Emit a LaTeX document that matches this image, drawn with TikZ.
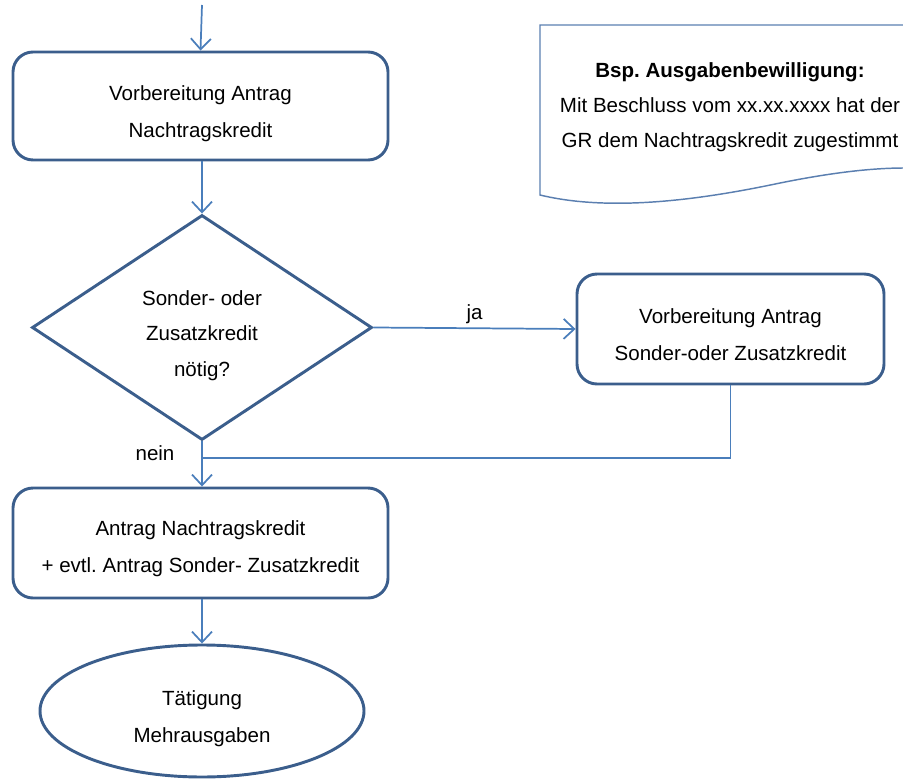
\documentclass[tikz,border=0pt]{standalone}
\usepackage{fontspec}
\setmainfont{Liberation Sans}
\usepackage{xcolor}
\usetikzlibrary{calc, shapes.geometric, arrows.meta}
\definecolor{rahmen}{HTML}{3B5E8C}
\definecolor{pfeil}{HTML}{4A7EBB}
\definecolor{blatt}{HTML}{5B7FB0}
\frenchspacing
%invisible strut that pushes the text a little down
\newcommand{\obenluft}[1]{\rule{0pt}{#1}}
\tikzset{
	box/.style={draw=rahmen, line width=2.2pt, rounded corners=15pt, inner sep=0pt,
		align=center, font=\fontsize{15.4}{27.75}\selectfont},
	decision/.style={draw=rahmen, line width=2.2pt, diamond, aspect=1.5, inner sep=0pt,
		minimum width=255pt, minimum height=168.75pt, align=center,
		font=\fontsize{15.4}{26.5}\selectfont},
	terminal/.style={draw=rahmen, line width=2.2pt, ellipse, inner sep=0pt,
		minimum width=243pt, minimum height=99pt, align=center,
		font=\fontsize{15.4}{28}\selectfont},
	flow/.style={draw=pfeil, line width=1.3pt, -{Straight Barb[length=8pt,width=15pt,line width=1.3pt]}},
	label/.style={font=\fontsize{15.4}{18}\selectfont, inner sep=0pt}
}
\begin{document}
\begin{tikzpicture}[x=0.75pt, y=-0.75pt]
	\useasboundingbox (0,0) rectangle (903,781);
	%Main column
	\coordinate (start) at (202,5);
	\node [box, minimum width=281.25pt, minimum height=81pt] (vorb) at (200.5,106)
		{\obenluft{22pt}Vorbereitung Antrag\\Nachtragskredit};
	\node [decision] (frage) at (202,327.5) {\obenluft{23pt}Sonder- oder\\Zusatzkredit\\nötig?};
	\node [box, minimum width=230.25pt, minimum height=82.5pt] (sonder) at (730.5,329)
		{\obenluft{20pt}Vorbereitung Antrag\\Sonder-oder Zusatzkredit};
	\node [box, minimum width=281.25pt, minimum height=82.5pt] (antrag) at (200.5,543)
		{\obenluft{19pt}Antrag Nachtragskredit\\+ evtl. Antrag Sonder- Zusatzkredit};
	\node [terminal] (mehr) at (202,711) {\obenluft{23pt}Tätigung\\Mehrausgaben};
	%Connectors
	\draw [flow] (start) -- (vorb.south |- vorb.north);
	\draw [flow] (vorb.south -| frage.north) -- (frage.north);
	\draw [flow] (frage.east) -- (sonder.west) node [label, midway, above=3pt] {ja};
	\coordinate (join) at (202,458);
	\draw [draw=pfeil, line width=1.3pt] (sonder.south) |- (join);
	\draw [flow] (frage.south) -- (frage.south |- antrag.north);
	\node [label] (nein) at (155,453) {nein};
	\draw [flow] (antrag.south -| mehr.north) -- (mehr.north);
	%Document shape (Bsp.)
	\draw [draw=blatt, line width=1.1pt] (905,25) -- (540,25) -- (540,195)
		.. controls (610,212) and (700,200) .. (780,183)
		.. controls (830,173) and (870,168) .. (905,168);
	\node [align=center, inner sep=0pt, font=\fontsize{15.4}{26.2}\selectfont] (bsp) at (730,107)
		{\textbf{Bsp. Ausgabenbewilligung:}\\Mit Beschluss vom xx.xx.xxxx hat der\\GR dem Nachtragskredit zugestimmt};
\end{tikzpicture}
\end{document}
